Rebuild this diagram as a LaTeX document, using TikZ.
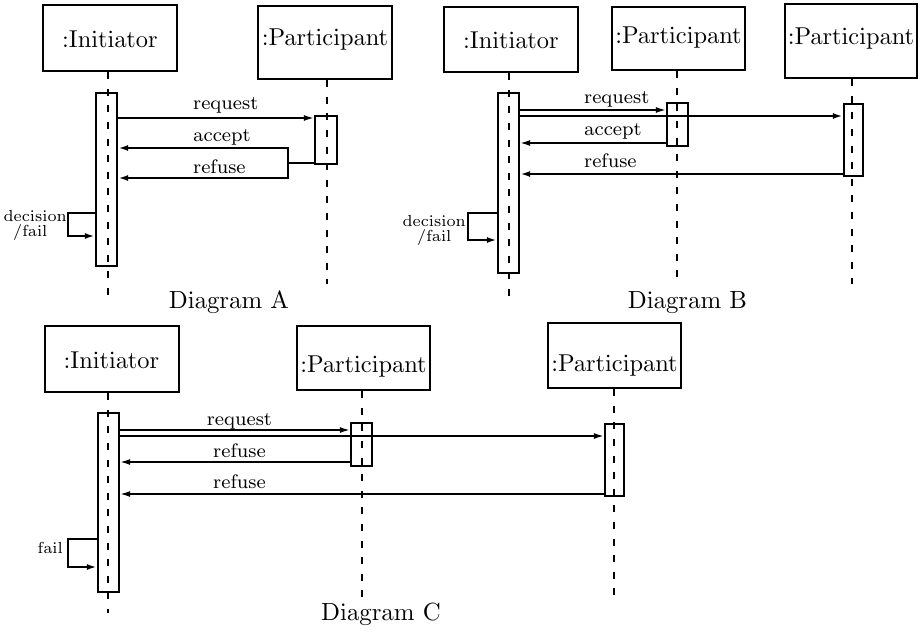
\documentclass[tikz,border=0pt]{standalone}
\usetikzlibrary{arrows.meta}
% Computer Modern at enlarged sizes, keeping the optical design of each size
\font\hdrfont=cmr10 at 24.4pt
\font\labfont=cmr8 at 19.5pt
\font\notefont=cmr7 at 16pt
\font\capfont=cmr10 at 24.8pt
\tikzset{
  head/.style={draw, line width=2.5pt, inner sep=0pt},
  act/.style={draw, line width=2.3pt, inner sep=0pt},
  life/.style={line width=2pt, dash pattern=on 7pt off 9.6pt},
  mtip/.tip={Latex[length=10pt,width=6pt]},
  msg/.style={line width=1.6pt, -mtip},
  msgb/.style={line width=2pt, -mtip},
  wire/.style={line width=1.8pt},
  selfmsg/.style={line width=2pt, -mtip},
  hdr/.style={font=\hdrfont, inner sep=0pt, anchor=base},
  lab/.style={font=\labfont, inner sep=0pt},
  note/.style={font=\notefont, inner sep=0pt},
  captext/.style={font=\capfont, inner sep=0pt, anchor=base},
}
\begin{document}
\begin{tikzpicture}[x=1pt, y=-1pt]
\useasboundingbox (0,0) rectangle (924,633);

% ---------------- Diagram A ----------------
\node[head, minimum width=134pt, minimum height=66pt] (hAI) at (110,38) {};
\node[hdr] (tAI) at (110,47) {:Initiator};
\node[head, minimum width=134pt, minimum height=73pt] (hAP) at (325,42.5) {};
\node[hdr] (tAP) at (325,45) {:Participant};
\coordinate (eAI) at (108,296);
\coordinate (eAP) at (327,284);
\draw[life] (hAI.south -| eAI) -- (eAI);
\draw[life] (hAP.south -| eAP) -- (eAP);
\node[act, minimum width=21pt, minimum height=173pt] (aAI) at (106.5,179.5) {};
\node[act, minimum width=22pt, minimum height=48pt] (aAP) at (326,140) {};
\coordinate (yA1) at (0,118);
\draw[msg] (aAI.east |- yA1) -- (aAP.west |- yA1);
\node[lab, anchor=base west] (lA1) at (193,109.3) {request};
\coordinate (jA1) at (288,148);
\coordinate (jA2) at (288,163);
\coordinate (jA3) at (288,178);
\draw[msgb, mtip-mtip] (aAI.east |- jA1) -- (jA1) -- (jA3) -- (aAI.east |- jA3);
\draw[wire] (aAP.west |- jA2) -- (jA2);
\node[lab, anchor=base west] (lA2) at (193,141.7) {accept};
\node[lab, anchor=base west] (lA3) at (193,173.3) {refuse};
\coordinate (kA1) at (68,213);
\coordinate (kA2) at (68,236);
\draw[selfmsg] (aAI.west |- kA1) -- (kA1) -- (kA2) -- (aAI.west |- kA2);
\node[note, anchor=base east] (nA1) at (67,221) {decision};
\node[note, anchor=base west] (nA2) at (13,236) {/fail};
\node[captext] (cA) at (229,308) {Diagram A};

% ---------------- Diagram B ----------------
\node[head, minimum width=134pt, minimum height=65pt] (hBI) at (511,39.5) {};
\node[hdr] (tBI) at (511,48) {:Initiator};
\node[head, minimum width=133pt, minimum height=63pt] (hBP) at (678.5,38.5) {};
\node[hdr] (tBP) at (678.5,43.5) {:Participant};
\node[head, minimum width=132pt, minimum height=74pt] (hBQ) at (851,41) {};
\node[hdr] (tBQ) at (851,44) {:Participant};
\coordinate (eBI) at (509,297);
\coordinate (eBP) at (677,284);
\coordinate (eBQ) at (852,284);
\draw[life] (hBI.south -| eBI) -- (eBI);
\draw[life] (hBP.south -| eBP) -- (eBP);
\draw[life] (hBQ.south -| eBQ) -- (eBQ);
\node[act, minimum width=21pt, minimum height=180pt] (aBI) at (508.5,183) {};
\node[act, minimum width=21pt, minimum height=43pt] (aBP) at (677.5,124.5) {};
\node[act, minimum width=19pt, minimum height=72pt] (aBQ) at (853.5,140) {};
\coordinate (yB1) at (0,110);
\coordinate (yB2) at (0,116);
\coordinate (yB3) at (0,143);
\coordinate (yB4) at (0,174);
\draw[msg] (aBI.east |- yB1) -- (aBP.west |- yB1);
\draw[msgb] (aBI.east |- yB2) -- (aBQ.west |- yB2);
\draw[msg] (aBP.west |- yB3) -- (aBI.east |- yB3);
\draw[msgb] (aBQ.west |- yB4) -- (aBI.east |- yB4);
\node[lab, anchor=base west] (lB1) at (584,103) {request};
\node[lab, anchor=base west] (lB2) at (584,135) {accept};
\node[lab, anchor=base west] (lB3) at (584,167) {refuse};
\coordinate (kB1) at (468,213);
\coordinate (kB2) at (468,240);
\draw[selfmsg] (aBI.west |- kB1) -- (kB1) -- (kB2) -- (aBI.west |- kB2);
\node[note, anchor=base east] (nB1) at (466,226) {decision};
\node[note, anchor=base west] (nB2) at (417,241) {/fail};
\node[captext] (cB) at (687.5,308) {Diagram B};

% ---------------- Diagram C ----------------
\node[head, minimum width=134pt, minimum height=66pt] (hCI) at (112,359) {};
\node[hdr] (tCI) at (111.5,368) {:Initiator};
\node[head, minimum width=133pt, minimum height=64pt] (hCP) at (363.5,358) {};
\node[hdr] (tCP) at (363.5,372) {:Participant};
\node[head, minimum width=133pt, minimum height=65pt] (hCQ) at (614.5,355.5) {};
\node[hdr] (tCQ) at (614.5,371) {:Participant};
\coordinate (eCI) at (108,613);
\coordinate (eCP) at (362,603);
\coordinate (eCQ) at (614,601);
\draw[life] (hCI.south -| eCI) -- (eCI);
\draw[life] (hCP.south -| eCP) -- (eCP);
\draw[life] (hCQ.south -| eCQ) -- (eCQ);
\node[act, minimum width=21pt, minimum height=179pt] (aCI) at (108.5,502.5) {};
\node[act, minimum width=21pt, minimum height=43pt] (aCP) at (361.5,444.5) {};
\node[act, minimum width=19pt, minimum height=72pt] (aCQ) at (614.5,460) {};
\coordinate (yC1) at (0,430);
\coordinate (yC2) at (0,436);
\coordinate (yC3) at (0,462);
\coordinate (yC4) at (0,494);
\draw[msg] (aCI.east |- yC1) -- (aCP.west |- yC1);
\draw[msg] (aCI.east |- yC2) -- (aCQ.west |- yC2);
\draw[msg] (aCP.west |- yC3) -- (aCI.east |- yC3);
\draw[msg] (aCQ.west |- yC4) -- (aCI.east |- yC4);
\node[lab, anchor=base] (lC1) at (239.5,425) {request};
\node[lab, anchor=base] (lC2) at (239.5,457) {refuse};
\node[lab, anchor=base] (lC3) at (239.5,488) {refuse};
\coordinate (kC1) at (68,539);
\coordinate (kC2) at (68,567);
\draw[selfmsg] (aCI.west |- kC1) -- (kC1) -- (kC2) -- (aCI.west |- kC2);
\node[note, anchor=base east] (nC1) at (63,553) {fail};
\node[captext] (cC) at (381,620) {Diagram C};
\end{tikzpicture}
\end{document}
